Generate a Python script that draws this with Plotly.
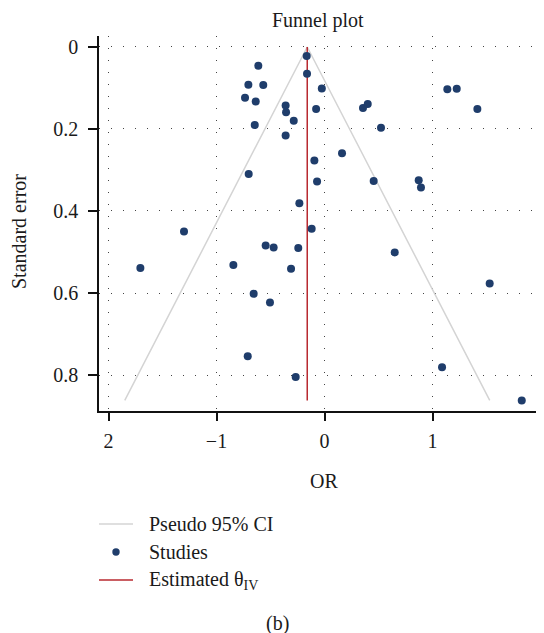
import plotly.graph_objects as go

# ---- data ----
or_values = [-0.165, -0.162, -0.613, -0.705, -0.567, -0.736, -0.637, -0.360, -0.356, -0.285,
             -0.646, -0.360, -0.094, -0.069, -0.702, -0.233, -0.025, -0.078, 0.356, 0.400,
             0.523, 1.137, 1.224, 1.415, 0.162, 0.455, 0.872, 0.893, -0.119, -1.301,
             -0.545, -0.471, -0.243, -1.705, -0.844, -0.310, -0.656, -0.505, -0.711, -0.267,
             0.650, 1.529, 1.088, 1.826]
se_values = [0.022, 0.065, 0.046, 0.092, 0.093, 0.124, 0.133, 0.143, 0.159, 0.180,
             0.190, 0.216, 0.277, 0.328, 0.310, 0.381, 0.101, 0.151, 0.149, 0.139,
             0.197, 0.103, 0.102, 0.151, 0.259, 0.327, 0.325, 0.343, 0.443, 0.450,
             0.484, 0.489, 0.490, 0.539, 0.532, 0.541, 0.602, 0.623, 0.754, 0.805,
             0.501, 0.577, 0.781, 0.862]
theta_iv = -0.16
se_max = 0.862
z95 = 1.96

x_tickvals = [-2, -1, 0, 1, 2]
x_ticktext = ["2", "\u22121", "0", "1", "2"]
y_tickvals = [0, 0.2, 0.4, 0.6, 0.8]
y_ticktext = ["0", "0.2", "0.4", "0.6", "0.8"]

FONT = "Liberation Serif"
FS = 20
TXT = "#1a1a1a"
NAVY = "#1f3d6b"
RED = "#b8292f"
GREY = "#d4d4d4"

fig = go.Figure()

# pseudo 95% CI funnel
fig.add_trace(go.Scatter(
    x=[theta_iv - z95 * se_max, theta_iv, theta_iv + z95 * se_max],
    y=[se_max, 0, se_max],
    mode="lines", line=dict(color=GREY, width=1.5),
    name="Pseudo 95% CI", showlegend=False, hoverinfo="skip"))

# estimated theta
fig.add_trace(go.Scatter(
    x=[theta_iv, theta_iv], y=[0, se_max],
    mode="lines", line=dict(color=RED, width=1.5),
    name="Estimated \u03b8IV", showlegend=False, hoverinfo="skip"))

# studies
fig.add_trace(go.Scatter(
    x=or_values, y=se_values, mode="markers",
    marker=dict(color=NAVY, size=8, line=dict(width=0)),
    name="Studies", showlegend=False))

# page has an 8px body margin: work in screen pixels and subtract it
OFF = 8
W, H = 544 - OFF, 633 - OFF
L = 99 - OFF
T = 36 - OFF
BOT = 411 - OFF
R = 0
B = H - BOT
pw, ph = W - L - R, BOT - T

def px(xs):
    return (xs - OFF - L) / pw

def py(ys):
    return (BOT - (ys - OFF)) / ph

fig.update_layout(
    width=W, height=H,
    margin=dict(l=L, r=R, t=T, b=B, pad=0),
    paper_bgcolor="white", plot_bgcolor="white",
    font=dict(family=FONT, size=FS, color=TXT),
    showlegend=False,
)

grid = dict(showgrid=True, gridcolor="#444444", gridwidth=1, griddash="1px,11px")

fig.update_xaxes(
    range=[-2.088, 2.032], tickvals=x_tickvals, ticktext=x_ticktext,
    showline=True, linecolor="#111111", linewidth=1.5, mirror=False,
    ticks="outside", ticklen=8, tickwidth=1.5, tickcolor="#111111",
    zeroline=False, ticklabelstandoff=3,
    tickfont=dict(family=FONT, size=FS, color=TXT), **grid)
fig.update_yaxes(
    range=[0.8878, -0.0268], tickvals=y_tickvals, ticktext=y_ticktext,
    showline=True, linecolor="#111111", linewidth=1.5, mirror=False,
    ticks="outside", ticklen=9, tickwidth=1.5, tickcolor="#111111",
    zeroline=False, ticklabelstandoff=6,
    tickfont=dict(family=FONT, size=FS, color=TXT), **grid)

ann = []
ann.append(dict(text="Funnel plot", x=px(317.5), y=py(20), xref="paper", yref="paper",
                xanchor="center", yanchor="middle", showarrow=False,
                font=dict(family=FONT, size=FS, color=TXT)))
ann.append(dict(text="OR", x=px(324), y=py(481), xref="paper", yref="paper",
                xanchor="center", yanchor="middle", showarrow=False,
                font=dict(family=FONT, size=FS, color=TXT)))
ann.append(dict(text="Standard error", x=px(19), y=py(232), xref="paper", yref="paper",
                xanchor="center", yanchor="middle", showarrow=False, textangle=-90,
                font=dict(family=FONT, size=FS, color=TXT)))

# manual legend
leg_rows = [524, 552, 580]
leg_labels = ["Pseudo 95% CI", "Studies", "Estimated \u03b8<sub>IV</sub>"]
for yy, lab in zip(leg_rows, leg_labels):
    ann.append(dict(text=lab, x=px(147), y=py(yy), xref="paper", yref="paper",
                    xanchor="left", yanchor="middle", showarrow=False,
                    font=dict(family=FONT, size=FS, color=TXT)))
ann.append(dict(text="(b)", x=px(277), y=py(623), xref="paper", yref="paper",
                xanchor="center", yanchor="middle", showarrow=False,
                font=dict(family=FONT, size=FS, color=TXT)))
fig.update_layout(annotations=ann)

shapes = [
    dict(type="line", xref="paper", yref="paper", x0=px(99), x1=px(133),
         y0=py(leg_rows[0]), y1=py(leg_rows[0]), line=dict(color=GREY, width=1.5)),
    dict(type="circle", xref="paper", yref="paper", x0=px(112.3), x1=px(119.7),
         y0=py(leg_rows[1] - 3.7), y1=py(leg_rows[1] + 3.7),
         fillcolor=NAVY, line=dict(width=0)),
    dict(type="line", xref="paper", yref="paper", x0=px(99), x1=px(133),
         y0=py(leg_rows[2]), y1=py(leg_rows[2]), line=dict(color=RED, width=1.5)),
]
fig.update_layout(shapes=shapes)

fig.write_html("out.html")
